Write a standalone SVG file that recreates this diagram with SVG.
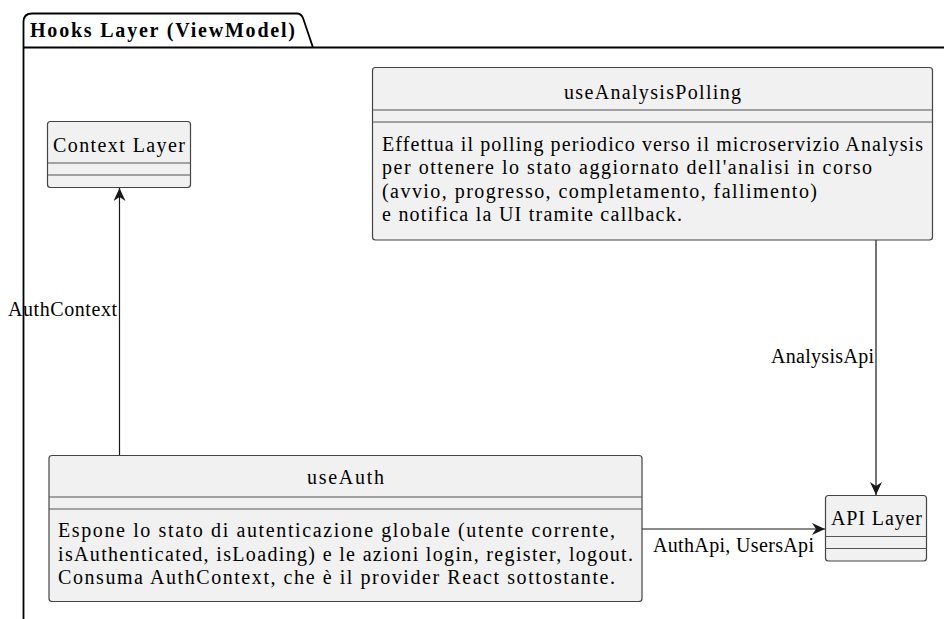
<svg xmlns="http://www.w3.org/2000/svg" width="944" height="619" viewBox="0 0 944 619">
  <style>
    .pkg { fill: none; stroke: #000000; stroke-width: 1.8; }
    .box { fill: #F1F1F1; stroke: #444444; stroke-width: 1.2; }
    .sep { stroke: #555555; stroke-width: 1.2; }
    .edge { stroke: #181818; stroke-width: 1.2; fill: none; }
    text { font-family: "Liberation Serif", "DejaVu Serif", serif; fill: #000000; font-size: 20px; }
    .pkgname { font-weight: bold; }
  </style>
  <defs>
    <marker id="arrow" markerUnits="userSpaceOnUse" markerWidth="16" markerHeight="14" refX="13" refY="6" orient="auto">
      <path d="M0,0 L13,6 L0,12 L4,6 Z" fill="#181818"/>
    </marker>
  </defs>

  <!-- package frame -->
  <g id="pkg-hooks">
    <path class="pkg" d="M23.5,619 L23.5,22 Q23.5,13.5 32,13.5 L297,13.5 Q301,13.5 303,18 L313,47.5 L944,47.5 M23.5,47.5 L313,47.5"/>
    <text class="pkgname" x="30" y="37" textLength="265" lengthAdjust="spacing">Hooks Layer (ViewModel)</text>
  </g>

  <!-- connectors -->
  <g id="edges">
    <path class="edge" d="M119.5,455 L119.5,188" marker-end="url(#arrow)"/>
    <text x="8" y="316" textLength="109" lengthAdjust="spacing">AuthContext</text>
    <path class="edge" d="M876,240 L876,495" marker-end="url(#arrow)"/>
    <text x="771" y="363" textLength="103" lengthAdjust="spacing">AnalysisApi</text>
    <path class="edge" d="M642,529 L825,529" marker-end="url(#arrow)"/>
    <text x="653" y="552" textLength="161" lengthAdjust="spacing">AuthApi, UsersApi</text>
  </g>

  <g id="context-layer">
    <rect class="box" x="47.5" y="121.5" width="143" height="66" rx="3"/>
    <text x="53" y="152" textLength="132" lengthAdjust="spacing">Context Layer</text>
    <line class="sep" x1="47.5" y1="163" x2="190.5" y2="163"/>
    <line class="sep" x1="47.5" y1="175" x2="190.5" y2="175"/>
  </g>

  <g id="use-analysis-polling">
    <rect class="box" x="372.5" y="67.5" width="560" height="172.5" rx="3"/>
    <text x="564" y="99" textLength="177" lengthAdjust="spacing">useAnalysisPolling</text>
    <line class="sep" x1="372.5" y1="110" x2="932.5" y2="110"/>
    <line class="sep" x1="372.5" y1="122" x2="932.5" y2="122"/>
    <text x="382" y="150.5" textLength="541" lengthAdjust="spacing">Effettua il polling periodico verso il microservizio Analysis</text>
    <text x="382" y="174" textLength="490" lengthAdjust="spacing">per ottenere lo stato aggiornato dell'analisi in corso</text>
    <text x="382" y="197.5" textLength="435" lengthAdjust="spacing">(avvio, progresso, completamento, fallimento)</text>
    <text x="382" y="221" textLength="300" lengthAdjust="spacing">e notifica la UI tramite callback.</text>
  </g>

  <g id="use-auth">
    <rect class="box" x="49" y="455.5" width="593" height="146" rx="3"/>
    <text x="307" y="484" textLength="77" lengthAdjust="spacing">useAuth</text>
    <line class="sep" x1="49" y1="497" x2="642" y2="497"/>
    <line class="sep" x1="49" y1="509" x2="642" y2="509"/>
    <text x="58" y="537" textLength="557" lengthAdjust="spacing">Espone lo stato di autenticazione globale (utente corrente,</text>
    <text x="58" y="560.5" textLength="575" lengthAdjust="spacing">isAuthenticated, isLoading) e le azioni login, register, logout.</text>
    <text x="58" y="584" textLength="557" lengthAdjust="spacing">Consuma AuthContext, che è il provider React sottostante.</text>
  </g>

  <g id="api-layer">
    <rect class="box" x="825.5" y="495.5" width="101" height="65.5" rx="3"/>
    <text x="831" y="525" textLength="91" lengthAdjust="spacing">API Layer</text>
    <line class="sep" x1="825.5" y1="536.5" x2="926.5" y2="536.5"/>
    <line class="sep" x1="825.5" y1="548.5" x2="926.5" y2="548.5"/>
  </g>
</svg>
